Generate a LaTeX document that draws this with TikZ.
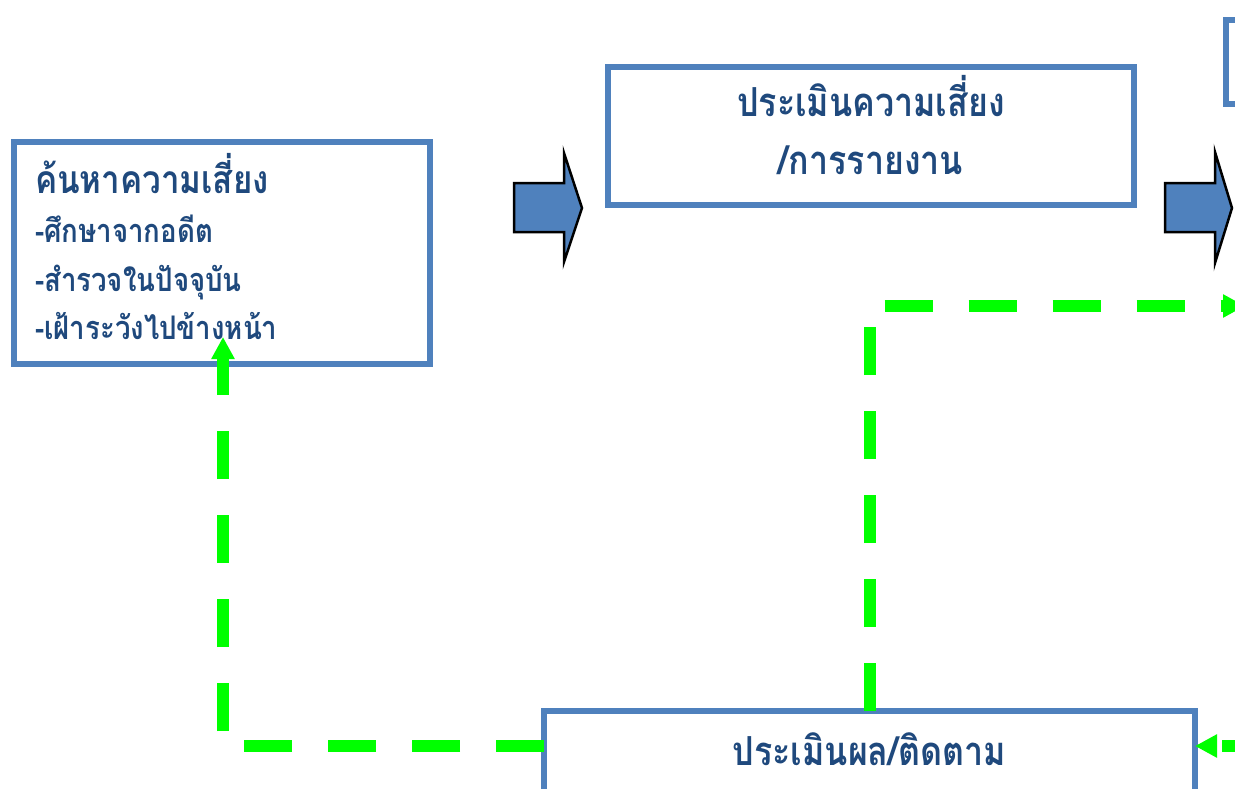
\documentclass[tikz,border=0pt]{standalone}
\usepackage{fontspec}
\newfontfamily\thaifont[Script=Thai,FakeStretch=0.85]{Loma}
\usetikzlibrary{arrows.meta}
\definecolor{boxblue}{RGB}{79,129,189}
\definecolor{textblue}{RGB}{31,73,125}
\definecolor{flowgreen}{RGB}{0,255,0}
\tikzset{
	riskbox/.style={draw=boxblue,line width=6pt,outer sep=0pt,fill=white,text=textblue,font=\thaifont\bfseries},
	flowline/.style={draw=flowgreen,line width=12pt,dash pattern=on 48pt off 36pt,-{Triangle[length=22pt,width=22pt]}},
	blockarrow/.style={draw=black,line width=2.5pt,fill=boxblue}
}
\begin{document}
\begin{tikzpicture}[x=1pt,y=-1pt]
		\useasboundingbox (0,0) rectangle (1235,788);
		% boxes
		\node[riskbox,anchor=north west,minimum width=416pt,minimum height=222pt,
			text width=374pt,inner xsep=21pt,align=left,text height=40pt,text depth=160pt,
			font=\thaifont\bfseries\fontsize{32.5}{48.5}\selectfont] (search) at (14,142)
			{{\fontsize{39}{50}\selectfont ค้นหาความเสี่ยง}\\[1pt]
			-ศึกษาจากอดีต\\
			-สำรวจในปัจจุบัน\\
			-เฝ้าระวังไปข้างหน้า};
		\node[riskbox,anchor=north west,minimum width=526pt,minimum height=138pt,
			align=center,text depth=22pt,font=\thaifont\bfseries\fontsize{40}{58}\selectfont] (assess) at (608,67)
			{ประเมินความเสี่ยง\\/การรายงาน};
		\node[riskbox,anchor=north west,minimum width=300pt,minimum height=84pt] (plan) at (1226,20) {};
		\node[riskbox,anchor=north,minimum width=651pt,inner ysep=0pt,text height=54pt,text depth=100pt,
			font=\thaifont\bfseries\fontsize{40}{50}\selectfont] (monitor) at (869.5,711)
			{ประเมินผล/ติดตาม};
		% block arrows
		\draw[blockarrow] (514,183) -- (564,183) -- (564,153) -- (582,208) -- (564,262) -- (564,232) -- (514,232) -- cycle;
		\draw[blockarrow] (1165,183) -- (1215,183) -- (1215,152) -- (1232,208) -- (1215,263) -- (1215,232) -- (1165,232) -- cycle;
		% feedback lines
		\coordinate (searchin) at (223,337);
		\coordinate (planin) at (1245,306);
		\coordinate (monitorfeed) at (1270,746);
		\draw[flowline] ([yshift=-35pt]monitor.north west) -| (searchin);
		\draw[flowline] (monitor.north) |- (planin);
		\draw[flowline] (monitorfeed) -- ([yshift=-35pt]monitor.north east);
\end{tikzpicture}
\end{document}
